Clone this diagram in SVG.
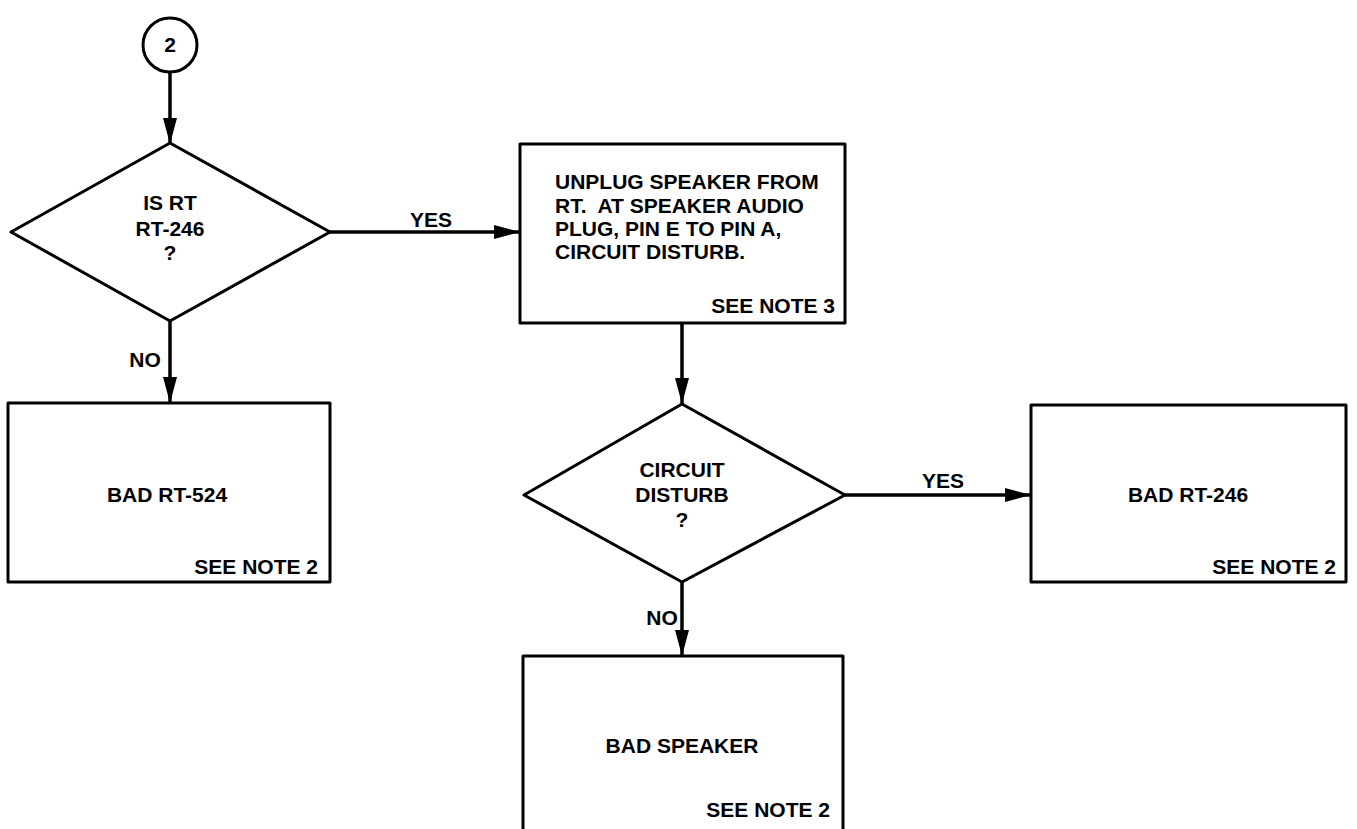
<svg xmlns="http://www.w3.org/2000/svg" width="1357" height="829" viewBox="0 0 1357 829">
<style>
.s{fill:#fff;stroke:#000;stroke-width:3;stroke-linejoin:round}
.c{fill:none;stroke:#000;stroke-width:3.5}
text{font-family:"Liberation Sans",Arial,sans-serif;font-weight:bold;font-size:21px;fill:#000}
.m{text-anchor:middle}
.e{text-anchor:end}
</style>
<defs>
<marker id="a" markerUnits="userSpaceOnUse" markerWidth="26" markerHeight="16" refX="26" refY="8" orient="auto">
<path d="M0,1 L26,8 L0,15 Z" fill="#000"/>
</marker>
</defs>
<rect width="1357" height="829" fill="#fff"/>
<g id="connectors">
<line class="c" x1="170" y1="72" x2="170" y2="144" marker-end="url(#a)"/>
<line class="c" x1="330" y1="232" x2="520" y2="232" marker-end="url(#a)"/>
<line class="c" x1="170" y1="321" x2="170" y2="403" marker-end="url(#a)"/>
<line class="c" x1="682" y1="323" x2="682" y2="404" marker-end="url(#a)"/>
<line class="c" x1="845" y1="495" x2="1031" y2="495" marker-end="url(#a)"/>
<line class="c" x1="682" y1="582" x2="682" y2="656" marker-end="url(#a)"/>
<text class="m" x="431" y="227">YES</text>
<text class="m" x="145" y="367">NO</text>
<text class="m" x="943" y="488">YES</text>
<text class="m" x="662" y="625">NO</text>
</g>
<g id="start">
<circle class="s" cx="170" cy="45" r="27"/>
<text class="m" x="170" y="52">2</text>
</g>
<g id="decision1">
<polygon class="s" points="170,143 330,232 170,321 11,232"/>
<text class="m" x="170" y="210">IS RT</text>
<text class="m" x="170" y="236">RT-246</text>
<text class="m" x="170" y="260">?</text>
</g>
<g id="unplug">
<rect class="s" x="520" y="144" width="325" height="179"/>
<text x="555" y="189">UNPLUG SPEAKER FROM</text>
<text x="555" y="213">RT.&#160; AT SPEAKER AUDIO</text>
<text x="555" y="236">PLUG, PIN E TO PIN A,</text>
<text x="555" y="259">CIRCUIT DISTURB.</text>
<text class="e" x="835" y="313">SEE NOTE 3</text>
</g>
<g id="badrt524">
<rect class="s" x="8" y="403" width="322" height="179"/>
<text class="m" x="167" y="502">BAD RT-524</text>
<text class="e" x="318" y="574">SEE NOTE 2</text>
</g>
<g id="decision2">
<polygon class="s" points="682,404 845,495 682,582 524,495"/>
<text class="m" x="682" y="477">CIRCUIT</text>
<text class="m" x="682" y="502">DISTURB</text>
<text class="m" x="682" y="527">?</text>
</g>
<g id="badrt246">
<rect class="s" x="1031" y="405" width="315" height="177"/>
<text class="m" x="1188" y="502">BAD RT-246</text>
<text class="e" x="1336" y="574">SEE NOTE 2</text>
</g>
<g id="badspeaker">
<rect class="s" x="523" y="656" width="320" height="200"/>
<text class="m" x="682" y="753">BAD SPEAKER</text>
<text class="e" x="830" y="817">SEE NOTE 2</text>
</g>
</svg>
